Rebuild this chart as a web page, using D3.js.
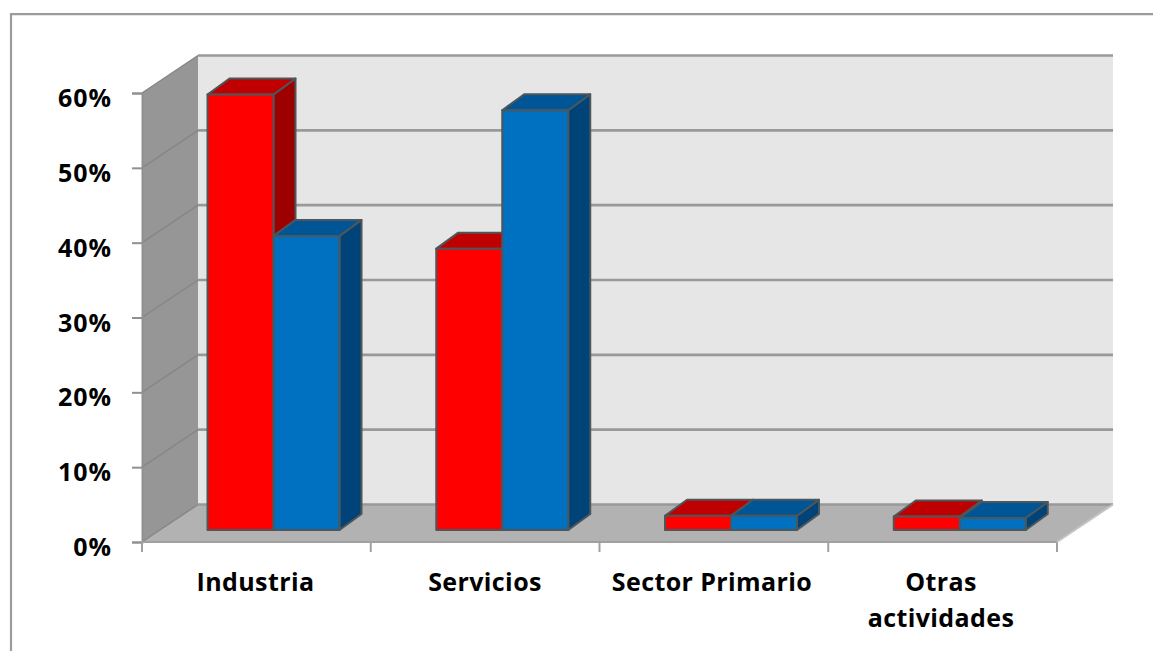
<!DOCTYPE html>
<html>
<head>
<meta charset="utf-8">
<script src="https://cdn.jsdelivr.net/npm/d3@7"></script>
<style>
body { margin: 0; background: #fff; }
svg { display: block; }
.label { font-family: "Open Sans", sans-serif; font-weight: 700; fill: #000; }
</style>
</head>
<body>
<div id="chart"></div>
<script>
var categories = ["Industria", "Servicios", "Sector Primario", "Otras actividades"];
var series_names = ["rojo", "azul"];
var red_values = [58.2, 37.6, 1.9, 1.8];
var blue_values = [39.3, 56.1, 1.9, 1.6];
var y_ticks = [0, 10, 20, 30, 40, 50, 60];

var width = 1153;
var height = 651;

// front plane of the 3d box
var left = 142, right = 1057, y_zero = 542, y_top = 93;
// wall offset and bar offset (depth)
var wall_dx = 56, wall_dy = -37.5;
var base_up = 12;
var bar_dx = 22, bar_dy = -16;

var colors = {
  rojo: {front: "#ff0000", top: "#c00000", side: "#9c0000"},
  azul: {front: "#0070c0", top: "#005596", side: "#004378"}
};

var svg = d3.select("#chart").append("svg")
  .attr("width", width)
  .attr("height", height);

// frame
svg.append("path")
  .attr("d", "M11,651V14.2H1153")
  .attr("fill", "none")
  .attr("stroke", "#9c9c9c")
  .attr("stroke-width", 2.2);

var x = d3.scaleBand().domain(categories).range([left, right]);
var y = d3.scaleLinear().domain([0, 60]).range([y_zero, y_top]);
var bar_w = 66;
var x_series = d3.scaleBand().domain(series_names).range([65.5, 65.5 + 2 * bar_w]);

function poly(pts) {
  return pts.map(function(p) { return p.join(","); }).join(" ");
}

// back wall
svg.append("polygon")
  .attr("points", poly([[left + wall_dx, y_top + wall_dy], [right + wall_dx, y_top + wall_dy], [right + wall_dx, y_zero + wall_dy], [left + wall_dx, y_zero + wall_dy]]))
  .attr("fill", "#e6e6e6");

// side wall
svg.append("polygon")
  .attr("points", poly([[left, y_top], [left + wall_dx, y_top + wall_dy], [left + wall_dx, y_zero + wall_dy], [left, y_zero]]))
  .attr("fill", "#969696");

// floor
svg.append("polygon")
  .attr("points", poly([[left, y_zero], [left + wall_dx, y_zero + wall_dy], [right + wall_dx, y_zero + wall_dy], [right, y_zero]]))
  .attr("fill", "#b2b2b2");

// gridlines
var grid = svg.append("g").attr("fill", "none");
y_ticks.forEach(function(t) {
  grid.append("path")
    .attr("d", "M" + left + "," + y(t) + "L" + (left + wall_dx) + "," + (y(t) + wall_dy))
    .attr("stroke", "#868686")
    .attr("stroke-width", 1.5);
  grid.append("path")
    .attr("d", "M" + (left + wall_dx) + "," + (y(t) + wall_dy) + "H" + (right + wall_dx))
    .attr("stroke", "#999999")
    .attr("stroke-width", 2.6);
});

// axes
var y_axis = d3.axisLeft(y).tickValues(y_ticks).tickSize(10).tickPadding(20)
  .tickFormat(function(d) { return d + "%"; });
var y_g = svg.append("g").attr("transform", "translate(" + left + ",0)").call(y_axis);
y_g.select(".domain").attr("stroke", "#909090").attr("stroke-width", 2);
y_g.selectAll(".tick line").attr("stroke", "#909090").attr("stroke-width", 2);
y_g.selectAll("text")
  .attr("class", "label")
  .attr("dy", "0.54em")
  .style("font-size", "25px")
  .style("letter-spacing", "1px");

var bottom_line = svg.append("g").attr("stroke", "#a0a0a0").attr("stroke-width", 2);
bottom_line.append("line").attr("x1", left).attr("x2", right).attr("y1", y_zero).attr("y2", y_zero);
[left].concat(categories.map(function(c) { return x(c) + x.bandwidth(); })).forEach(function(px) {
  bottom_line.append("line").attr("x1", px).attr("x2", px).attr("y1", y_zero).attr("y2", y_zero + 10);
});
bottom_line.append("line")
  .attr("x1", right).attr("y1", y_zero)
  .attr("x2", right + wall_dx).attr("y2", y_zero + wall_dy)
  .attr("stroke", "#c4c4c4");

// bars, red then blue so the blue front covers the red side
var bars = svg.append("g")
  .attr("stroke", "#4d5659")
  .attr("stroke-width", 2)
  .attr("stroke-linejoin", "round");

var y_bar = function(v) { return y(v) - base_up; };

function draw_bar(group, cat, name, value) {
  var c = colors[name];
  var x0 = x(cat) + x_series(name);
  var x1 = x0 + x_series.bandwidth();
  var yb = y_bar(0), yt = y_bar(value);
  group.append("polygon")
    .attr("points", poly([[x1, yb], [x1 + bar_dx, yb + bar_dy], [x1 + bar_dx, yt + bar_dy], [x1, yt]]))
    .attr("fill", c.side);
  group.append("polygon")
    .attr("points", poly([[x0, yt], [x0 + bar_dx, yt + bar_dy], [x1 + bar_dx, yt + bar_dy], [x1, yt]]))
    .attr("fill", c.top);
  group.append("rect")
    .attr("x", x0).attr("y", yt)
    .attr("width", x1 - x0).attr("height", yb - yt)
    .attr("fill", c.front);
}

categories.forEach(function(cat, i) {
  draw_bar(bars, cat, "rojo", red_values[i]);
  draw_bar(bars, cat, "azul", blue_values[i]);
});

// category labels, wrapped like the original
var cat_lines = [["Industria"], ["Servicios"], ["Sector Primario"], ["Otras", "actividades"]];
var label_x = [255.5, 485, 712, 941];
categories.forEach(function(cat, i) {
  var t = svg.append("text")
    .attr("class", "label")
    .attr("text-anchor", "middle")
    .style("font-size", "25px")
    .style("letter-spacing", "0.4px");
  cat_lines[i].forEach(function(line, j) {
    t.append("tspan")
      .attr("x", label_x[i])
      .attr("y", 591 + j * 36)
      .text(line);
  });
});
</script>
</body>
</html>
